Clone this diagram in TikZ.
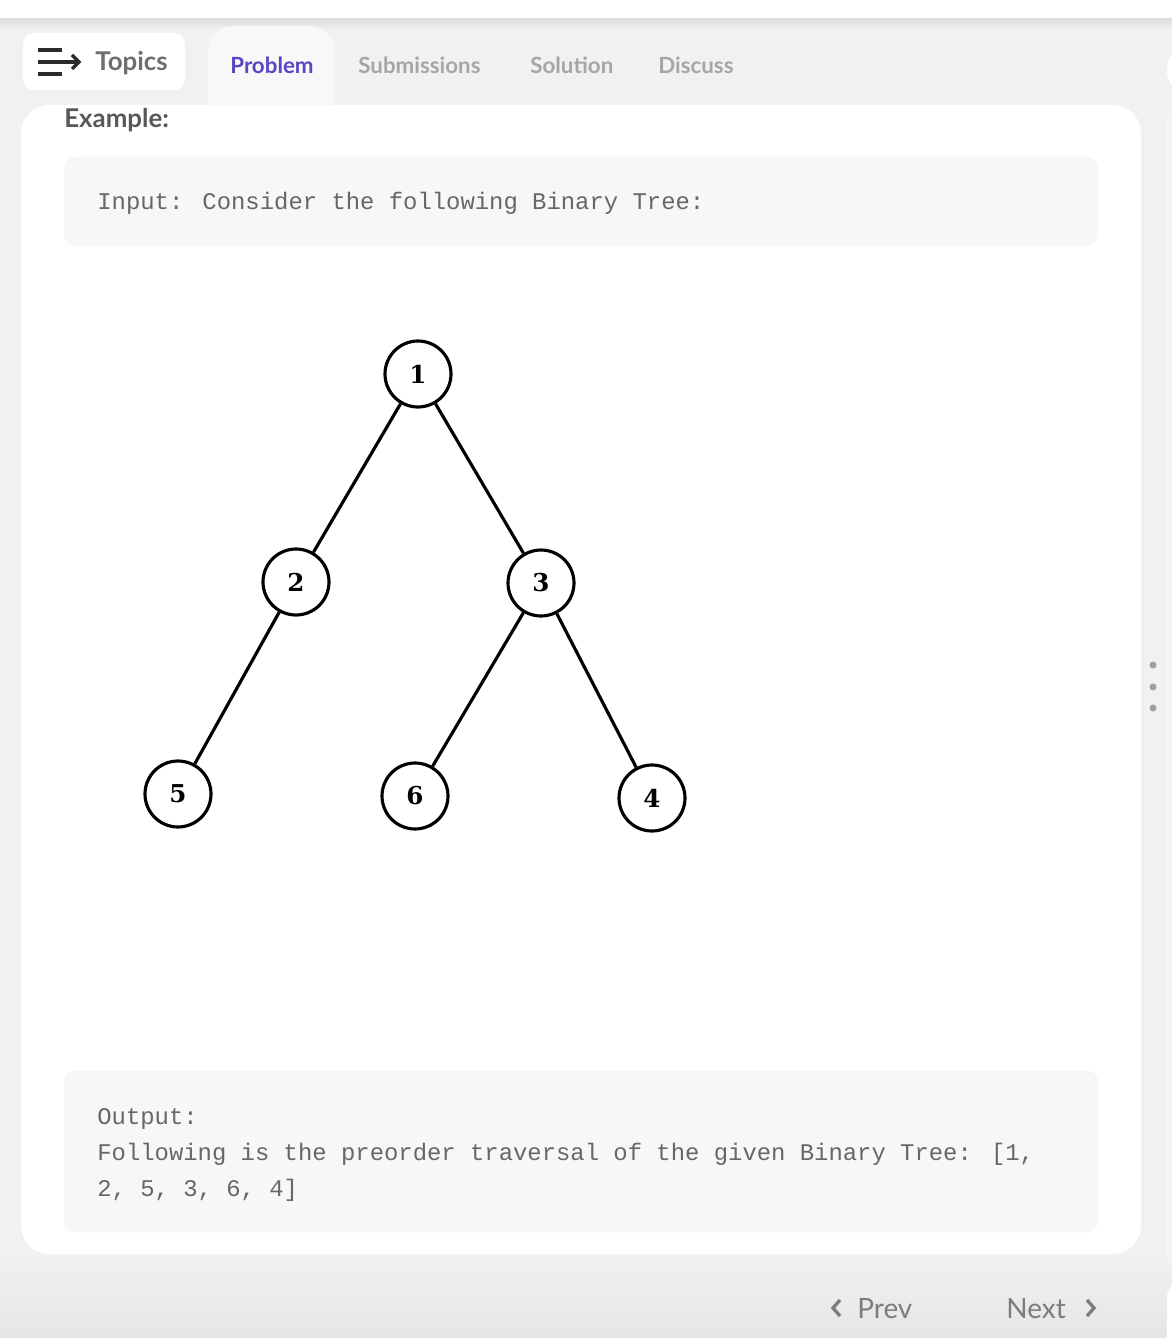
\documentclass[tikz,border=0pt]{standalone}
\usepackage{fontspec}
\setmainfont{Lato}
\newfontfamily\codefont{Liberation Mono}
\newfontfamily\digitfont{DejaVu Serif}
\usetikzlibrary{positioning}

\definecolor{pagebg}{HTML}{F0F1F1}
\definecolor{codebg}{HTML}{F7F7F7}
\definecolor{tabbg}{HTML}{F7F8F8}
\definecolor{iconink}{HTML}{2B2B2B}
\definecolor{topicgray}{HTML}{6E6E6E}
\definecolor{activetab}{HTML}{5B46C2}
\definecolor{tabgray}{HTML}{A6A6A6}
\definecolor{headgray}{HTML}{585858}
\definecolor{codegray}{HTML}{676767}
\definecolor{navgray}{HTML}{7D7D7D}
\definecolor{dotgray}{HTML}{A0A0A0}

\tikzset{
    tablabel/.style={anchor=base west, inner sep=0pt, font=\fontsize{12.7}{15}\selectfont\bfseries},
    codeline/.style={anchor=base west, inner sep=0pt, text=codegray, font=\codefont\fontsize{13.6}{16}\selectfont},
    navlabel/.style={anchor=base west, inner sep=0pt, text=navgray, font=\fontsize{15.9}{18}\selectfont},
    treenode/.style={circle, draw=black, fill=white, line width=1.8pt, minimum size=1.32cm, inner sep=0pt,
        font=\digitfont\bfseries\fontsize{14}{16}\selectfont},
    branch/.style={draw=black, line width=1.8pt}
}

\begin{document}
\begin{tikzpicture}[x=0.02cm, y=-0.02cm]
    \useasboundingbox (0,0) rectangle (1172,1338);

    % Page background and top bar
    \fill[pagebg] (0,0) rectangle (1172,1338);
    \shade[top color=pagebg, bottom color=black!10] (0,1254) rectangle (1172,1338);
    \shade[top color=black!14, bottom color=pagebg] (0,18) rectangle (1172,30);
    \fill[white] (0,0) rectangle (1172,18);

    % Right edge panels
    \fill[white, rounded corners=10] (1167,50) rectangle (1200,90);
    \fill[black!4, rounded corners=10] (1166,107) rectangle (1200,1268);
    \fill[white, rounded corners=10] (1167,1280) rectangle (1200,1360);

    % Side menu dots
    \foreach \y in {665, 687, 708} {
        \fill[dotgray] (1153,\y) circle (3.5);
    }

    % Topics button
    \fill[white, rounded corners=6] (23,33) rectangle (185,90);
    \draw[iconink, line width=2pt] (38,50) -- (62,50);
    \draw[iconink, line width=2pt] (38,74) -- (62,74);
    \draw[iconink, line width=2pt] (38,62) -- (79,62);
    \draw[iconink, line width=2pt] (72,55) -- (79,62) -- (72,69);
    \node[anchor=base west, inner sep=0pt, text=topicgray, font=\fontsize{14.7}{17}\selectfont\bfseries] (topics) at (95,71) {Topics};

    % Tabs
    \fill[tabbg, rounded corners=14] (208,26) rectangle (335,130);
    \node[tablabel, text=activetab] (tabproblem) at (230,74) {Problem};
    \foreach \x/\t in {358/Submissions, 530/Solution, 658/Discuss} {
        \node[tablabel, text=tabgray] at (\x,74) {\t};
    }

    % Main card
    \fill[white, rounded corners=16] (21,105) rectangle (1141,1254);
    \node[anchor=base west, inner sep=0pt, text=headgray, font=\fontsize{14.7}{17}\selectfont\bfseries] (example) at (64,128) {Example:};

    % Input box
    \fill[codebg, rounded corners=6] (64,157) rectangle (1098,246);
    \node[codeline] (input) at (97,210) {Input: Consider the following Binary Tree:};

    % Binary tree
    \node[treenode] (n1) at (418,374) {1};
    \node[treenode] (n2) at (296,582) {2};
    \node[treenode] (n3) at (541,583) {3};
    \node[treenode] (n5) at (178,794) {5};
    \node[treenode] (n6) at (415,796) {6};
    \node[treenode] (n4) at (652,798) {4};
    \foreach \a/\b in {n1/n2, n1/n3, n2/n5, n3/n6, n3/n4} {
        \draw[branch] (\a) -- (\b);
    }

    % Output box
    \fill[codebg, rounded corners=6] (64,1071) rectangle (1098,1232);
    \node[codeline] (out1) at (97,1124) {Output:};
    \node[codeline] (out2) at (97,1160) {Following is the preorder traversal of the given Binary Tree: [1,};
    \node[codeline] (out3) at (97,1196) {2, 5, 3, 6, 4]};

    % Prev / Next
    \draw[navgray, line width=1.9pt] (840,1300) -- (833,1308) -- (840,1316);
    \node[navlabel] (prev) at (857,1318) {Prev};
    \node[navlabel] (next) at (1006,1318) {Next};
    \draw[navgray, line width=1.9pt] (1087,1300) -- (1094,1308) -- (1087,1316);
\end{tikzpicture}
\end{document}
